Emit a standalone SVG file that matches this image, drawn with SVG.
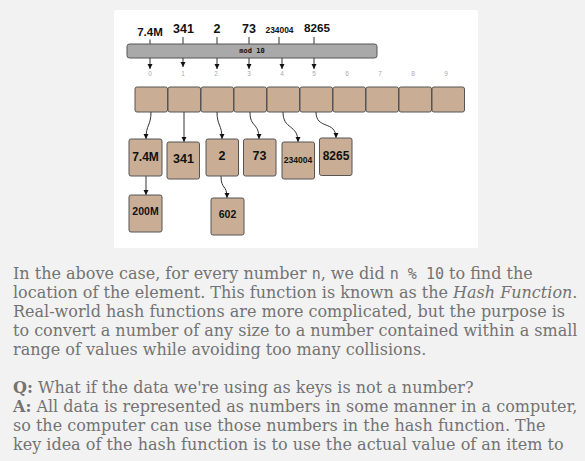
<svg xmlns="http://www.w3.org/2000/svg" width="585" height="461" viewBox="0 0 585 461">
<style>
.cell{fill:#c9ae95;stroke:#555;stroke-width:1}
.node rect{fill:#c9ae95;stroke:#555;stroke-width:1}
.lbl{font-family:"Liberation Sans",Arial,sans-serif;font-weight:bold;fill:#111;text-anchor:middle}
.idx{font-family:"Liberation Sans",Arial,sans-serif;font-size:6.5px;fill:#aaa;text-anchor:middle}
.tick{stroke:#333;stroke-width:1}
.conn{fill:none;stroke:#333;stroke-width:1;marker-end:url(#ah)}
.body{font-family:"DejaVu Serif",serif;font-size:16px;fill:#737373}
.mono{font-family:"DejaVu Sans Mono",monospace;font-size:15px}
</style>
<defs>
<marker id="ah" markerWidth="6" markerHeight="6" refX="5" refY="3" orient="auto" markerUnits="userSpaceOnUse">
<path d="M0,0.5 L5,3 L0,5.5 Z" fill="#111"/>
</marker>
</defs>
<rect width="585" height="461" fill="#f2f2f2"/>
<rect x="114" y="10" width="364" height="238" fill="#fff"/>

<g id="inputs">
<text class="lbl" x="150" y="35.5" font-size="11.5">7.4M</text>
<text class="lbl" x="183.5" y="32.5" font-size="12.5">341</text>
<text class="lbl" x="217" y="32.5" font-size="12.5">2</text>
<text class="lbl" x="249" y="32.5" font-size="12.5">73</text>
<text class="lbl" x="279.5" y="33.3" font-size="8.4">234004</text>
<text class="lbl" x="317" y="32.3" font-size="11.7">8265</text>
<line class="tick" x1="150" y1="39.5" x2="150" y2="44"/>
<line class="tick" x1="183" y1="37" x2="183" y2="44"/>
<line class="tick" x1="217" y1="37" x2="217" y2="44"/>
<line class="tick" x1="249" y1="37" x2="249" y2="44"/>
<line class="tick" x1="279" y1="37" x2="279" y2="44"/>
<line class="tick" x1="314" y1="37" x2="314" y2="44"/>
</g>

<g id="mod">
<rect x="127" y="44" width="250" height="14" rx="2.5" fill="#a9a9a9" stroke="#555" stroke-width="1"/>
<text x="252" y="53" font-family="'DejaVu Sans Mono',monospace" font-weight="bold" font-size="7" fill="#111" text-anchor="middle">mod 10</text>
</g>

<g id="index-arrows">
<line class="conn" x1="150" y1="58" x2="150" y2="69"/>
<line class="conn" x1="183" y1="58" x2="183" y2="67"/>
<line class="conn" x1="217" y1="58" x2="217" y2="69"/>
<line class="conn" x1="249" y1="58" x2="249" y2="69"/>
<line class="conn" x1="282" y1="58" x2="282" y2="69"/>
<line class="conn" x1="314" y1="58" x2="314" y2="69"/>
</g>

<g id="indices">
<text class="idx" x="150" y="75.5">0</text>
<text class="idx" x="183" y="75.5">1</text>
<text class="idx" x="216" y="75.5">2</text>
<text class="idx" x="249" y="75.5">3</text>
<text class="idx" x="282" y="75.5">4</text>
<text class="idx" x="314" y="75.5">5</text>
<text class="idx" x="347" y="75.5">6</text>
<text class="idx" x="380" y="75.5">7</text>
<text class="idx" x="413" y="75.5">8</text>
<text class="idx" x="446" y="75.5">9</text>
</g>

<g id="buckets">
<rect class="cell" x="135" y="87" width="32.5" height="25" rx="2"/>
<rect class="cell" x="168" y="87" width="32.5" height="25" rx="2"/>
<rect class="cell" x="201" y="87" width="32.5" height="25" rx="2"/>
<rect class="cell" x="234" y="87" width="32.5" height="25" rx="2"/>
<rect class="cell" x="267" y="87" width="32.5" height="25" rx="2"/>
<rect class="cell" x="300" y="87" width="32.5" height="25" rx="2"/>
<rect class="cell" x="333" y="87" width="32.5" height="25" rx="2"/>
<rect class="cell" x="366" y="87" width="32.5" height="25" rx="2"/>
<rect class="cell" x="399" y="87" width="32.5" height="25" rx="2"/>
<rect class="cell" x="432" y="87" width="32.5" height="25" rx="2"/>
</g>

<g id="connectors">
<path class="conn" d="M151,112 C151,126 146,124 146,139"/>
<path class="conn" d="M184,112 L184,142"/>
<path class="conn" d="M217,112 C217,126 222,124 222,139"/>
<path class="conn" d="M250,112 C250,128 259,122 259,139"/>
<path class="conn" d="M283,112 C283,130 298,124 298,142"/>
<path class="conn" d="M316,112 C316,130 336,120 336,138"/>
<path class="conn" d="M146,176 L146,195"/>
<path class="conn" d="M221,176 C221,190 227,184 227,198"/>
</g>

<g id="n-7.4M" class="node"><rect x="129" y="139" width="33" height="37" rx="2"/><text class="lbl" x="145.5" y="161" font-size="12">7.4M</text></g>
<g id="n-341" class="node"><rect x="167" y="142" width="32.5" height="37" rx="2"/><text class="lbl" x="183.5" y="163" font-size="12.5">341</text></g>
<g id="n-2" class="node"><rect x="206" y="139" width="32.5" height="37" rx="2"/><text class="lbl" x="222" y="160" font-size="12.5">2</text></g>
<g id="n-73" class="node"><rect x="243.5" y="139" width="32.5" height="37" rx="2"/><text class="lbl" x="259.5" y="160" font-size="12.5">73</text></g>
<g id="n-234004" class="node"><rect x="282" y="142" width="32.5" height="37" rx="2"/><text class="lbl" x="298" y="163" font-size="8.5">234004</text></g>
<g id="n-8265" class="node"><rect x="319.5" y="138" width="32.5" height="37.5" rx="2"/><text class="lbl" x="336" y="160" font-size="12">8265</text></g>
<g id="n-200M" class="node"><rect x="129" y="195" width="33" height="37" rx="2"/><text class="lbl" x="145.5" y="215" font-size="10.5">200M</text></g>
<g id="n-602" class="node"><rect x="211" y="198" width="33" height="37" rx="2"/><text class="lbl" x="227.5" y="218" font-size="10.5">602</text></g>

<g id="text" class="body">
<text x="13" y="279">In the above case, for every number <tspan class="mono">n</tspan>, we did <tspan class="mono">n % 10</tspan> to find the</text>
<text x="13" y="298">location of the element. This function is known as the <tspan font-style="italic">Hash Function</tspan>.</text>
<text x="13" y="317">Real-world hash functions are more complicated, but the purpose is</text>
<text x="13" y="336">to convert a number of any size to a number contained within a small</text>
<text x="13" y="355">range of values while avoiding too many collisions.</text>
<text x="13" y="393"><tspan font-weight="bold">Q:</tspan> What if the data we're using as keys is not a number?</text>
<text x="13" y="412"><tspan font-weight="bold">A:</tspan> All data is represented as numbers in some manner in a computer,</text>
<text x="13" y="431">so the computer can use those numbers in the hash function. The</text>
<text x="13" y="450">key idea of the hash function is to use the actual value of an item to</text>
</g>
</svg>
